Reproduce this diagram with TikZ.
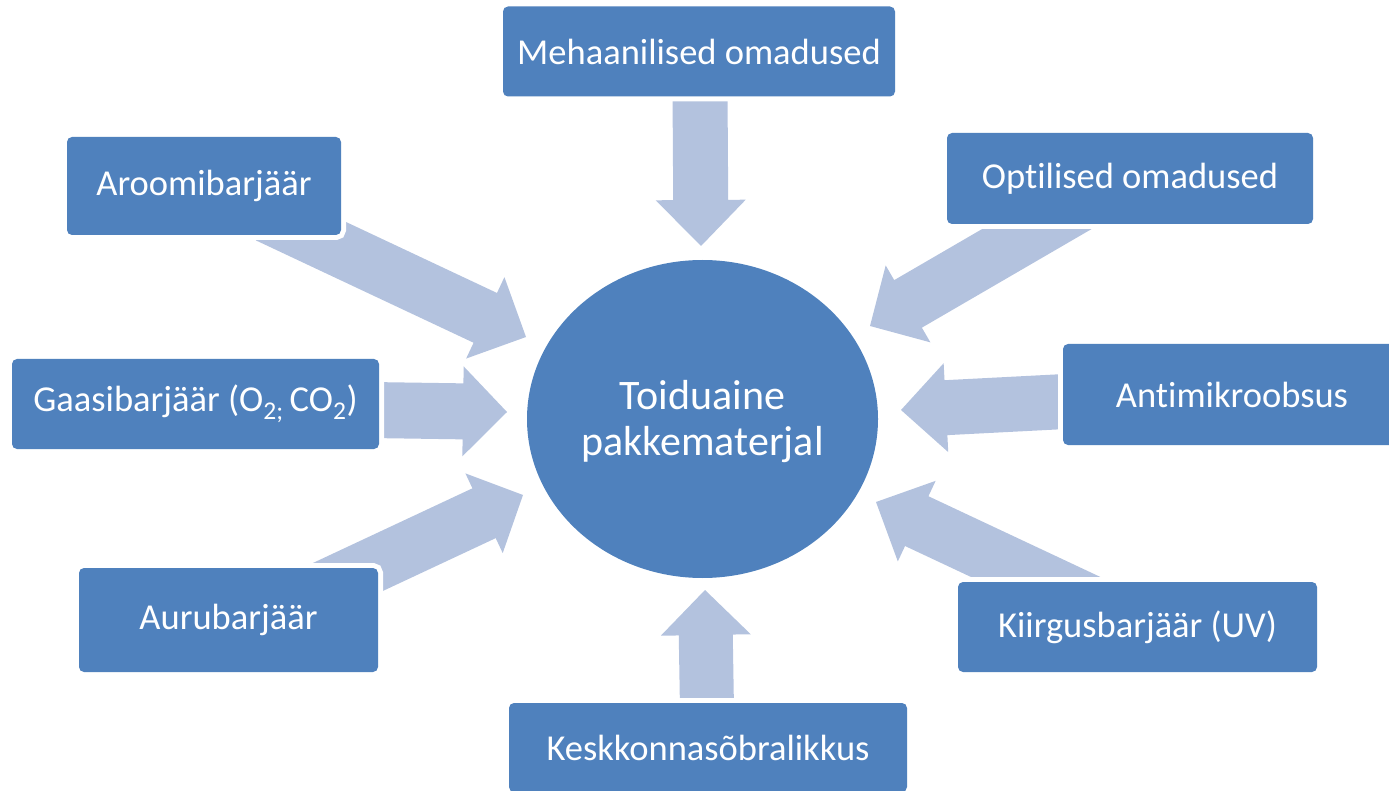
\documentclass[tikz,border=0pt]{standalone}
\usepackage{fontspec}
\setmainfont{Carlito}[Ligatures={NoCommon}]
\usetikzlibrary{calc,shapes.geometric}
\definecolor{boxblue}{HTML}{4F81BD}
\definecolor{arrblue}{HTML}{B3C2DE}
\tikzset{
  box/.style={fill=boxblue, rounded corners=5pt, text=white,
    font=\fontsize{36.5}{44}\selectfont, inner sep=0pt,
    preaction={draw=white, line width=10pt}},
  arr/.style={fill=arrblue},
  hub/.style={ellipse, fill=boxblue, text=white, align=center,
    font=\fontsize{42}{46}\selectfont, inner sep=0pt},
}
% #1 start coordinate name, #2 tip coordinate name, #3 half shaft, #4 half head, #5 head length
\newcommand\blockarr[5]{%
  \coordinate (bB) at ($(#2)!#5!(#1)$);
  \fill[arr] ($(#1)!#3!90:(#2)$) -- ($(bB)!#3!90:(#2)$) -- ($(bB)!#4!90:(#2)$)
    -- (#2) -- ($(bB)!#4!-90:(#2)$) -- ($(bB)!#3!-90:(#2)$)
    -- ($(#1)!#3!-90:(#2)$) -- cycle;
}
\begin{document}
\begin{tikzpicture}[x=1pt,y=-1pt]
\useasboundingbox (0,0) rectangle (1389,791);
\clip (0,0) rectangle (1389,791);
% arrow end coordinates
\coordinate (sMeh) at (700,90);      \coordinate (tMeh) at (701,246);
\coordinate (sKesk) at (707,710);    \coordinate (tKesk) at (705,590);
\coordinate (sGaas) at (370,410);    \coordinate (tGaas) at (507,412);
\coordinate (sAnti) at (1075,401);   \coordinate (tAnti) at (901,410);
\coordinate (sAro) at (267.6,215.5); \coordinate (tAro) at (526,337);
\coordinate (sAuru) at (303,598);    \coordinate (tAuru) at (523,495);
\coordinate (sOpt) at (1098,193.5);  \coordinate (tOpt) at (870,326);
\coordinate (sKiir) at (1115.6,614.5); \coordinate (tKiir) at (876,502);
\blockarr{sMeh}{tMeh}{27.5pt}{45pt}{46pt}
\blockarr{sKesk}{tKesk}{27pt}{45pt}{45pt}
\blockarr{sGaas}{tGaas}{28pt}{45pt}{44pt}
\blockarr{sAnti}{tAnti}{27.5pt}{44.5pt}{45pt}
\blockarr{sAro}{tAro}{27.5pt}{45pt}{45pt}
\blockarr{sAuru}{tAuru}{27.5pt}{44pt}{43pt}
\blockarr{sOpt}{tOpt}{27.5pt}{44.5pt}{44pt}
\blockarr{sKiir}{tKiir}{27.5pt}{44.5pt}{45pt}
% hub
\node[hub, minimum width=351pt, minimum height=318pt] (hub) at (702.5,419) {};
\node[text=white, align=center, font=\fontsize{42}{46}\selectfont, inner sep=0pt]
  (hubtext) at (702.5,422) {Toiduaine\\pakkematerjal};
% boxes
\node[box, minimum width=392pt, minimum height=90pt] (meh) at (699,51.5) {Mehaanilised omadused};
\node[box, minimum width=274pt, minimum height=98pt] (aro) at (204,186) {Aroomibarjäär};
\node[box, minimum width=366pt, minimum height=91pt] (opt) at (1130,178.5) {Optilised omadused};
\node[box, minimum width=367pt, minimum height=90pt] (gaas) at (195.5,404) {Gaasibarjäär (O\textsubscript{2;}\,CO\textsubscript{2})};
\node[box, minimum width=338pt, minimum height=101pt] (anti) at (1232,394.5) {Antimikroobsus};
\node[box, minimum width=299pt, minimum height=104pt] (auru) at (228.5,620) {Aurubarjäär};
\node[box, minimum width=359pt, minimum height=90pt] (kiir) at (1137.5,627) {Kiirgusbarjäär (UV)};
\node[box, minimum width=398pt, minimum height=89pt] (kesk) at (708,747.5) {Keskkonnasõbralikkus};
\end{tikzpicture}
\end{document}
